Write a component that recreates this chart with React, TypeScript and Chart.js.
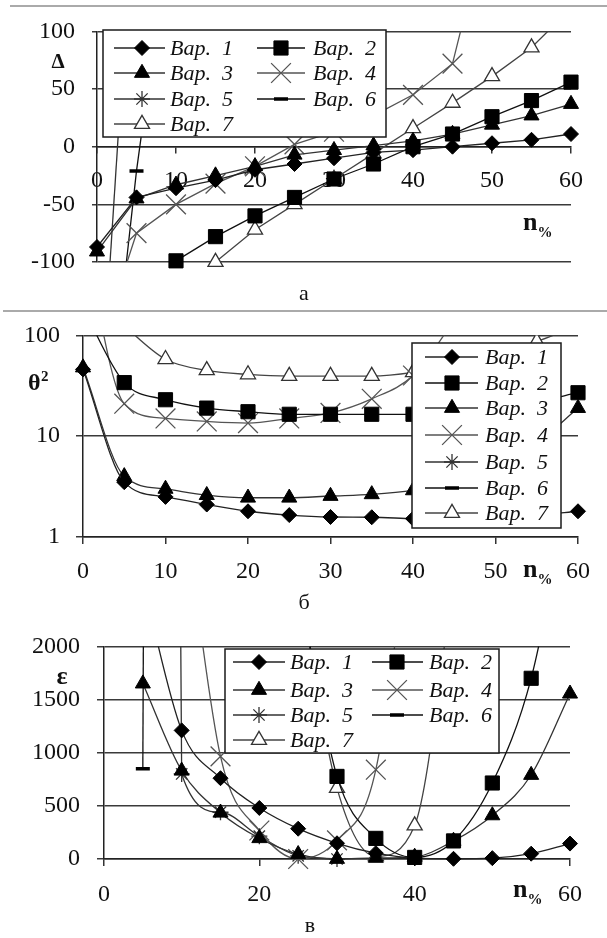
import React, { useEffect, useRef } from 'react';
import { Chart, registerables } from 'chart.js';

Chart.register(...registerables);

const FONT = "'Liberation Serif', 'Times New Roman', serif";

const N_PCT = [0, 5, 10, 15, 20, 25, 30, 35, 40, 45, 50, 55, 60];
const SERIES = ['Вар.  1', 'Вар.  2', 'Вар.  3', 'Вар.  4', 'Вар.  5', 'Вар.  6', 'Вар.  7'];

// panel а : Δ
const DELTA_1 = [-87, -44, -36, -29, -20, -15, -10, -5, -3, 0, 3, 6, 11];
const DELTA_2 = [null, null, -99, -78, -60, -44, -28, -15, 0, 11, 26, 40, 56];
const DELTA_3 = [-91, -45, -33, -25, -17, -7, -3, 1, 5, 11, 19, 27, 37];
const DELTA_4 = [-180, -75, -50, -32, -17, 2, 13, 27, 45, 72, 210, null, null];
const DELTA_5 = [-275, 255, null, null, null, null, null, null, null, null, null, null, null];
const DELTA_6 = [-330, -21, 230, null, null, null, null, null, null, null, null, null, null];
const DELTA_7 = [null, null, null, -100, -72, -50, -28, -6, 16, 38, 61, 86, 120];

// panel б : θ²
const THETA_1 = [46, 3.5, 2.5, 2.1, 1.8, 1.65, 1.58, 1.57, 1.52, 1.5, 1.55, 1.65, 1.8];
const THETA_2 = [185, 34, 23, 19, 17.5, 16.5, 16.5, 16.5, 16.5, 17, 19, 22, 27];
const THETA_3 = [48, 4.0, 3.0, 2.6, 2.45, 2.45, 2.55, 2.65, 2.9, 3.5, 5, 8.5, 19];
const THETA_4 = [1000, 21, 15, 14, 13.5, 15, 17, 23.5, 40, 140, null, null, null];
const THETA_5 = [null, null, null, null, null, null, null, null, null, null, null, null, null];
const THETA_6 = [null, null, null, null, null, null, null, null, null, null, null, null, null];
const THETA_7 = [300, 125, 58, 45, 41, 39.5, 39.5, 39.5, 43, 52, 65, 87, 125];

// panel в : ε
const EPS_1 = [null, 2600, 1210, 760, 480, 285, 148, 55, 8, 2, 8, 50, 145];
const EPS_2 = [null, null, null, null, null, 2600, 777, 194, 15, 170, 715, 1700, 3500];
const EPS_3 = [null, 1650, 830, 435, 195, 45, 0, 10, 20, 170, 410, 790, 1555];
const EPS_4 = [null, null, 3500, 965, 268, 0, 175, 840, 3500, null, null, null, null];
const EPS_5 = [null, 60000, 800, 440, 215, 30, 0, null, null, null, null, null, null];
const EPS_6 = [null, 850, 90000, null, null, null, null, null, null, null, null, null, null];
const EPS_7 = [null, null, null, null, null, 2600, 667, 25, 315, 2600, null, null, null];

const X_TICKS_AB = [0, 10, 20, 30, 40, 50, 60];
const X_TICKS_C = [0, 20, 40, 60];
const Y_TICKS_A = [-100, -50, 0, 50, 100];
const Y_TICKS_B = [1, 10, 100];
const Y_TICKS_C = [0, 500, 1000, 1500, 2000];

type Num = number | null;

const STYLES = [
  { point: 'rectRot', r: 7.5, fill: '#000', stroke: '#000', pbw: 1, line: '#222' },
  { point: 'rect', r: 10, fill: '#000', stroke: '#000', pbw: 1, line: '#111' },
  { point: 'triangle', r: 8.7, fill: '#000', stroke: '#000', pbw: 1, line: '#333' },
  { point: 'crossRot', r: 14, fill: 'rgba(0,0,0,0)', stroke: '#555', pbw: 1.3, line: '#555' },
  { point: 'star', r: 8, fill: 'rgba(0,0,0,0)', stroke: '#333', pbw: 1.3, line: '#333' },
  { point: 'line', r: 7, fill: '#000', stroke: '#000', pbw: 3.5, line: '#111' },
  { point: 'triangle', r: 8.7, fill: '#fff', stroke: '#333', pbw: 1.3, line: '#444' },
];

function buildDatasets(values: Num[][], monotone: boolean, clipBottom: boolean[], straight: number[]) {
  return values.map((vals, i) => {
    const st = STYLES[i];
    const smooth = monotone && straight.indexOf(i) < 0;
    return {
      label: SERIES[i],
      data: N_PCT.map((x, j) => ({ x, y: vals[j] })),
      borderColor: st.line,
      borderWidth: 1.3,
      pointStyle: st.point,
      pointRadius: st.r,
      pointHoverRadius: st.r,
      pointBackgroundColor: st.fill,
      pointBorderColor: st.stroke,
      pointBorderWidth: st.pbw,
      tension: 0,
      cubicInterpolationMode: smooth ? 'monotone' : 'default',
      spanGaps: false,
      clip: { left: 14, right: 14, top: 0, bottom: clipBottom[i] ? 14 : 0 },
    };
  });
}

function xScale(ticksArr: number[], position: any, tickLength: number, padding: number, height?: number) {
  return {
    type: 'linear',
    axis: 'x',
    position,
    min: 0,
    max: 60,
    afterBuildTicks: (s: any) => { s.ticks = ticksArr.map((v) => ({ value: v })); },
    afterFit: (s: any) => { if (height) s.height = height; },
    ticks: { font: { family: FONT, size: 24 }, color: '#111', padding, maxRotation: 0, autoSkip: false },
    grid: { drawOnChartArea: false, drawTicks: true, tickLength, color: '#333', lineWidth: 1.5 },
    border: { display: true, color: '#222', width: 1.5 },
  };
}

function yScale(type: string, min: number, max: number, ticksArr: number[], width: number, tickLength: number, padding: number) {
  return {
    type,
    position: 'left',
    min,
    max,
    afterBuildTicks: (s: any) => { s.ticks = ticksArr.map((v) => ({ value: v })); },
    afterFit: (s: any) => { s.width = width; },
    ticks: { font: { family: FONT, size: 24 }, color: '#111', padding, callback: (v: any) => String(v) },
    grid: { color: '#3a3a3a', lineWidth: 1.5, tickLength, drawTicks: true },
    border: { display: true, color: '#222', width: 1.5 },
  };
}

function drawMarker(ctx: CanvasRenderingContext2D, st: any, x: number, y: number) {
  const r = st.r;
  ctx.save();
  ctx.lineWidth = st.pbw;
  ctx.strokeStyle = st.stroke;
  ctx.fillStyle = st.fill;
  ctx.beginPath();
  if (st.point === 'rectRot') {
    ctx.moveTo(x - r, y); ctx.lineTo(x, y - r); ctx.lineTo(x + r, y); ctx.lineTo(x, y + r); ctx.closePath();
    ctx.fill(); ctx.stroke();
  } else if (st.point === 'rect') {
    const s = r * Math.SQRT1_2;
    ctx.rect(x - s, y - s, 2 * s, 2 * s); ctx.fill(); ctx.stroke();
  } else if (st.point === 'triangle') {
    for (let k = 0; k < 3; k++) {
      const a = (k * 2 * Math.PI) / 3;
      const px = x + Math.sin(a) * r, py = y - Math.cos(a) * r;
      if (k === 0) ctx.moveTo(px, py); else ctx.lineTo(px, py);
    }
    ctx.closePath(); ctx.fill(); ctx.stroke();
  } else if (st.point === 'crossRot' || st.point === 'star') {
    const d = r * Math.SQRT1_2;
    ctx.moveTo(x - d, y - d); ctx.lineTo(x + d, y + d);
    ctx.moveTo(x - d, y + d); ctx.lineTo(x + d, y - d);
    if (st.point === 'star') { ctx.moveTo(x, y - r); ctx.lineTo(x, y + r); ctx.moveTo(x - r, y); ctx.lineTo(x + r, y); }
    ctx.stroke();
  } else if (st.point === 'line') {
    ctx.moveTo(x - r, y); ctx.lineTo(x + r, y); ctx.stroke();
  }
  ctx.restore();
}

type LegendSpec = { box: number[]; cols: { x0: number; x1: number; m: number; t: number }[]; rows: number[]; twoCols: boolean };

function drawLegend(ctx: CanvasRenderingContext2D, spec: LegendSpec) {
  const [bx, by, bw, bh] = spec.box;
  ctx.save();
  ctx.fillStyle = '#fff';
  ctx.fillRect(bx, by, bw, bh);
  ctx.strokeStyle = '#1a1a1a';
  ctx.lineWidth = 1.5;
  ctx.strokeRect(bx, by, bw, bh);
  SERIES.forEach((name, i) => {
    const col = spec.twoCols ? i % 2 : 0;
    const row = spec.twoCols ? Math.floor(i / 2) : i;
    const c = spec.cols[col];
    const y = spec.rows[row];
    const st = STYLES[i];
    ctx.strokeStyle = st.line;
    ctx.lineWidth = 1.4;
    ctx.beginPath(); ctx.moveTo(c.x0, y); ctx.lineTo(c.x1, y); ctx.stroke();
    drawMarker(ctx, st, c.m, y);
    ctx.fillStyle = '#111';
    ctx.font = `italic 22px ${FONT}`;
    ctx.textBaseline = 'middle';
    ctx.textAlign = 'left';
    ctx.fillText(name, c.t, y + 1);
  });
  ctx.restore();
}

function drawNPct(ctx: CanvasRenderingContext2D, x: number, base: number) {
  ctx.fillStyle = '#111';
  ctx.textAlign = 'left';
  ctx.textBaseline = 'alphabetic';
  ctx.font = `bold 26px ${FONT}`;
  ctx.fillText('n', x, base);
  const w = ctx.measureText('n').width;
  ctx.font = `bold 15px ${FONT}`;
  ctx.fillText('%', x + w, base + 7);
}

function drawCaption(ctx: CanvasRenderingContext2D, text: string, x: number, base: number) {
  ctx.fillStyle = '#111';
  ctx.font = `22px ${FONT}`;
  ctx.textAlign = 'center';
  ctx.textBaseline = 'alphabetic';
  ctx.fillText(text, x, base);
}

function sepLine(ctx: CanvasRenderingContext2D, x0: number, y: number) {
  ctx.strokeStyle = '#aaa';
  ctx.lineWidth = 2;
  ctx.beginPath(); ctx.moveTo(x0, y); ctx.lineTo(607, y); ctx.stroke();
}

function extras(draw: (ctx: CanvasRenderingContext2D) => void) {
  return {
    id: 'extras',
    afterDraw(chart: any) {
      const ctx = chart.ctx as CanvasRenderingContext2D;
      ctx.save();
      draw(ctx);
      ctx.restore();
    },
  };
}

const baseOptions = (padding: any) => ({
  responsive: false,
  animation: false,
  devicePixelRatio: 1,
  events: [],
  layout: { padding },
  plugins: { legend: { display: false }, tooltip: { enabled: false } },
});

function configA(): any {
  return {
    type: 'line',
    data: {
      datasets: buildDatasets(
        [DELTA_1, DELTA_2, DELTA_3, DELTA_4, DELTA_5, DELTA_6, DELTA_7],
        false,
        [true, true, true, false, false, false, true],
        []
      ),
    },
    options: {
      ...baseOptions({ top: 29, bottom: 43, left: 0, right: 36 }),
      scales: {
        x: xScale(X_TICKS_AB, { y: 0 }, 6, 14),
        y: yScale('linear', -100, 100, Y_TICKS_A, 97, 5, 17),
      },
    },
    plugins: [
      extras((ctx) => {
        sepLine(ctx, 10, 6);
        ctx.fillStyle = '#111';
        ctx.font = `bold 21px ${FONT}`;
        ctx.textAlign = 'center';
        ctx.textBaseline = 'alphabetic';
        ctx.fillText('Δ', 58, 68);
        drawNPct(ctx, 523, 230);
        drawCaption(ctx, 'а', 304, 300);
        drawLegend(ctx, {
          box: [103, 30, 283, 107],
          cols: [
            { x0: 114, x1: 165, m: 142, t: 170 },
            { x0: 257, x1: 305, m: 281, t: 313 },
          ],
          rows: [48, 73, 99, 124],
          twoCols: true,
        });
      }),
    ],
  };
}

function configB(): any {
  return {
    type: 'line',
    data: {
      datasets: buildDatasets(
        [THETA_1, THETA_2, THETA_3, THETA_4, THETA_5, THETA_6, THETA_7],
        true,
        [true, true, true, true, true, true, true],
        []
      ),
    },
    options: {
      ...baseOptions({ top: 29, bottom: 0, left: 0, right: 29 }),
      scales: {
        x: xScale(X_TICKS_AB, 'bottom', 7, 13, 78),
        y: yScale('logarithmic', 1, 100, Y_TICKS_B, 83, 7, 16),
      },
    },
    plugins: [
      extras((ctx) => {
        sepLine(ctx, 3, 6);
        ctx.fillStyle = '#111';
        ctx.textAlign = 'left';
        ctx.textBaseline = 'alphabetic';
        ctx.font = `bold 24px ${FONT}`;
        ctx.fillText('θ', 28, 85);
        ctx.font = `bold 15px ${FONT}`;
        ctx.fillText('2', 41, 76);
        drawNPct(ctx, 523, 272);
        drawCaption(ctx, 'б', 304, 304);
        drawLegend(ctx, {
          box: [412, 38, 149, 185],
          cols: [{ x0: 425, x1: 478, m: 452, t: 485 }],
          rows: [52, 78, 103, 130, 157, 183, 208],
          twoCols: false,
        });
      }),
    ],
  };
}

function configC(): any {
  return {
    type: 'line',
    data: {
      datasets: buildDatasets(
        [EPS_1, EPS_2, EPS_3, EPS_4, EPS_5, EPS_6, EPS_7],
        true,
        [true, true, true, true, true, true, true],
        [5]
      ),
    },
    options: {
      ...baseOptions({ top: 28, bottom: 0, left: 0, right: 37 }),
      scales: {
        x: xScale(X_TICKS_C, 'bottom', 7, 14, 79),
        y: yScale('linear', 0, 2000, Y_TICKS_C, 104, 7, 17),
      },
    },
    plugins: [
      extras((ctx) => {
        ctx.fillStyle = '#111';
        ctx.textAlign = 'center';
        ctx.textBaseline = 'alphabetic';
        ctx.font = `bold 26px ${FONT}`;
        ctx.fillText('ε', 62, 69);
        drawNPct(ctx, 513, 282);
        drawCaption(ctx, 'в', 310, 317);
        drawLegend(ctx, {
          box: [225, 34, 274, 104],
          cols: [
            { x0: 233, x1: 285, m: 259, t: 290 },
            { x0: 372, x1: 423, m: 397, t: 429 },
          ],
          rows: [47, 75, 100, 125],
          twoCols: true,
        });
      }),
    ],
  };
}

function Panel({ top, height, make }: { top: number; height: number; make: () => any }) {
  const ref = useRef<HTMLCanvasElement>(null);
  useEffect(() => {
    const chart = new Chart(ref.current as HTMLCanvasElement, make());
    return () => chart.destroy();
  }, []);
  return (
    <canvas
      ref={ref}
      width={607}
      height={height}
      style={{ position: 'absolute', left: 0, top, width: 607, height, display: 'block' }}
    />
  );
}

export default function App() {
  return (
    <div style={{ position: 'absolute', left: 0, top: 0, width: 607, height: 938, background: '#fff' }}>
      <Panel top={0} height={305} make={configA} />
      <Panel top={305} height={310} make={configB} />
      <Panel top={615} height={323} make={configC} />
    </div>
  );
}
